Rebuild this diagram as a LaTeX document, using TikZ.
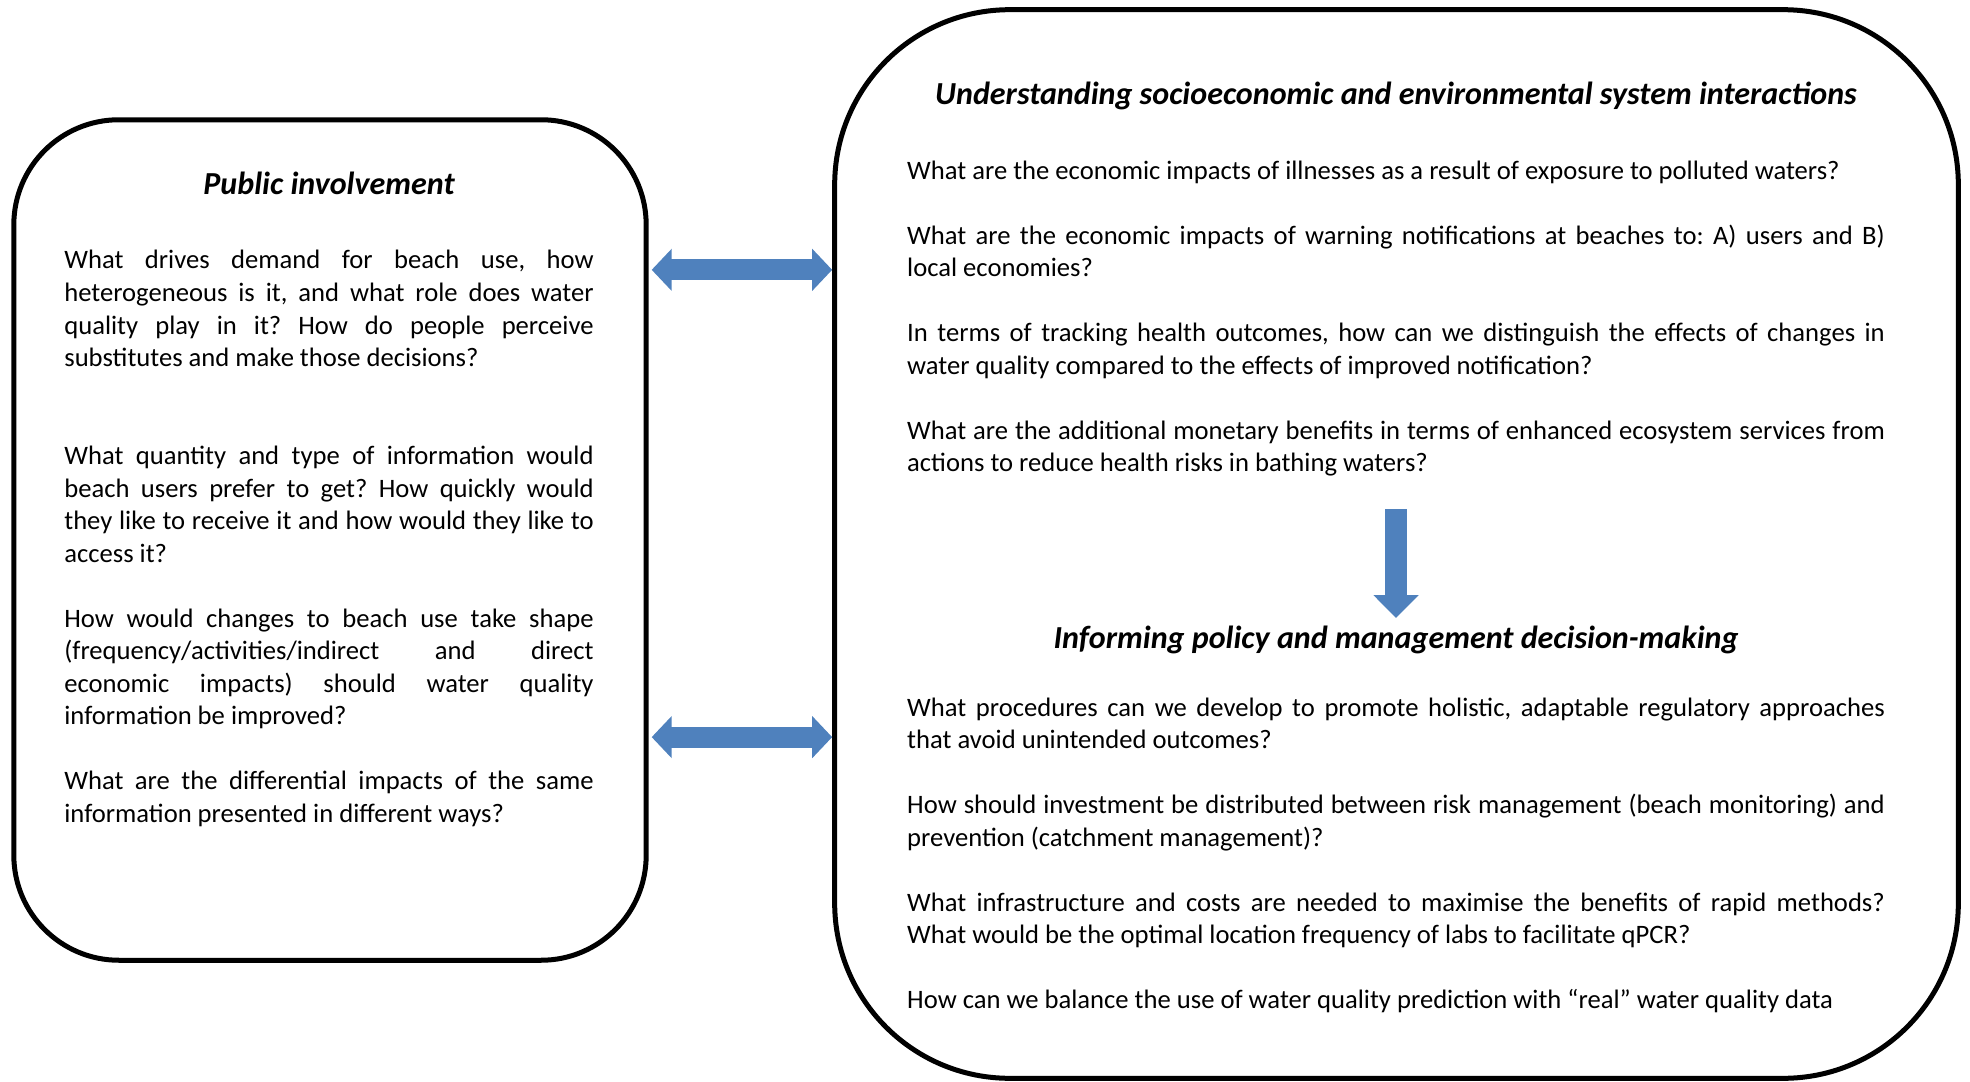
\documentclass[tikz,border=0pt]{standalone}
\usepackage{fontspec}
\setmainfont{Carlito}
\usetikzlibrary{arrows.meta,positioning}
\definecolor{arrowblue}{HTML}{4F81BD}

\begin{document}
\begin{tikzpicture}[x=0.01cm,y=-0.01cm,
  font=\fontsize{7.57}{9.25}\selectfont,
  node distance=0.31cm,
  panel/.style={draw,line width=0.05cm,inner sep=0pt},
  head/.style={inner sep=0pt,font=\fontsize{9.12}{9.25}\selectfont\bfseries\itshape,
    execute at begin node=\strut},
  para/.style={inner sep=0pt,align=justify,
    execute at begin node={\hyphenpenalty=10000\tolerance=9999\frenchspacing\strut},
    execute at end node=\strut},
  dblarrow/.style={draw=arrowblue,line width=0.21cm,
    {Triangle[width=0.41cm,length=0.2cm]}-{Triangle[width=0.41cm,length=0.2cm]}},
  downarrow/.style={draw=arrowblue,line width=0.22cm,-{Triangle[width=0.44cm,length=0.23cm]}}]
  \useasboundingbox (0,0) rectangle (1970,1082);
  % the two panels
  \node[panel,rounded corners=1.05cm,minimum width=6.32cm,minimum height=8.4cm] (L) at (330,540) {};
  \node[panel,rounded corners=1.75cm,minimum width=11.23cm,minimum height=10.68cm] (R) at (1396.5,544) {};
  % left: public involvement
  \node[head,anchor=base] (LT) at (329,195) {Public involvement};
  \node[para,text width=5.29cm,below=0.40cm of LT] (L1) {What drives demand for beach use, how heterogeneous is it, and what role does water quality play in it? How do people perceive substitutes and make those decisions?};
  \node[para,text width=5.29cm,below=0.64cm of L1] (L2) {What quantity and type of information would beach users prefer to get? How quickly would they like to receive it and how would they like to access it?};
  \node[para,text width=5.29cm,below=of L2] (L3) {How would changes to beach use take shape\linebreak (frequency/activities/indirect and direct\linebreak economic impacts) should water quality\linebreak information be improved?};
  \node[para,text width=5.29cm,below=of L3] (L4) {What are the differential impacts of the same information presented in different ways?};
  % right, top: system interactions
  \node[head,anchor=base] (RT) at (1396,105) {Understanding socioeconomic and environmental system interactions};
  \node[para,text width=9.77cm,below=0.405cm of RT] (R1) {What are the economic impacts of illnesses as a result of exposure to polluted waters?};
  \node[para,text width=9.77cm,below=of R1] (R2) {What are the economic impacts of warning notifications at beaches to: A) users and B)\linebreak local economies?};
  \node[para,text width=9.77cm,below=of R2] (R3) {In terms of tracking health outcomes, how can we distinguish the effects of changes in\linebreak water quality compared to the effects of improved notification?};
  \node[para,text width=9.77cm,below=of R3] (R4) {What are the additional monetary benefits in terms of enhanced ecosystem services from actions to reduce health risks in bathing waters?};
  % right, bottom: policy and management
  \node[head,anchor=base] (T2) at (1396,648.5) {Informing policy and management decision-making};
  \node[para,text width=9.77cm,below=0.34cm of T2] (R5) {What procedures can we develop to promote holistic, adaptable regulatory approaches\linebreak that avoid unintended outcomes?};
  \node[para,text width=9.77cm,below=of R5] (R6) {How should investment be distributed between risk management (beach monitoring) and prevention (catchment management)?};
  \node[para,text width=9.77cm,below=of R6] (R7) {What infrastructure and costs are needed to maximise the benefits of rapid methods?\linebreak What would be the optimal location frequency of labs to facilitate qPCR?};
  \node[para,text width=9.77cm,below=of R7] (R8) {How can we balance the use of water quality prediction with “real” water quality data};
  % arrows
  \coordinate (h1) at ([yshift=2.7cm]L.east);
  \coordinate (h2) at ([yshift=-1.97cm]L.east);
  \draw[dblarrow,shorten <=0.03cm] (h1) -- (h1 -| R.west);
  \draw[dblarrow,shorten <=0.03cm] (h2) -- (h2 -| R.west);
  \draw[downarrow,shorten <=0.27cm,shorten >=0.07cm] (R4.south) -- (T2.north);
\end{tikzpicture}
\end{document}
